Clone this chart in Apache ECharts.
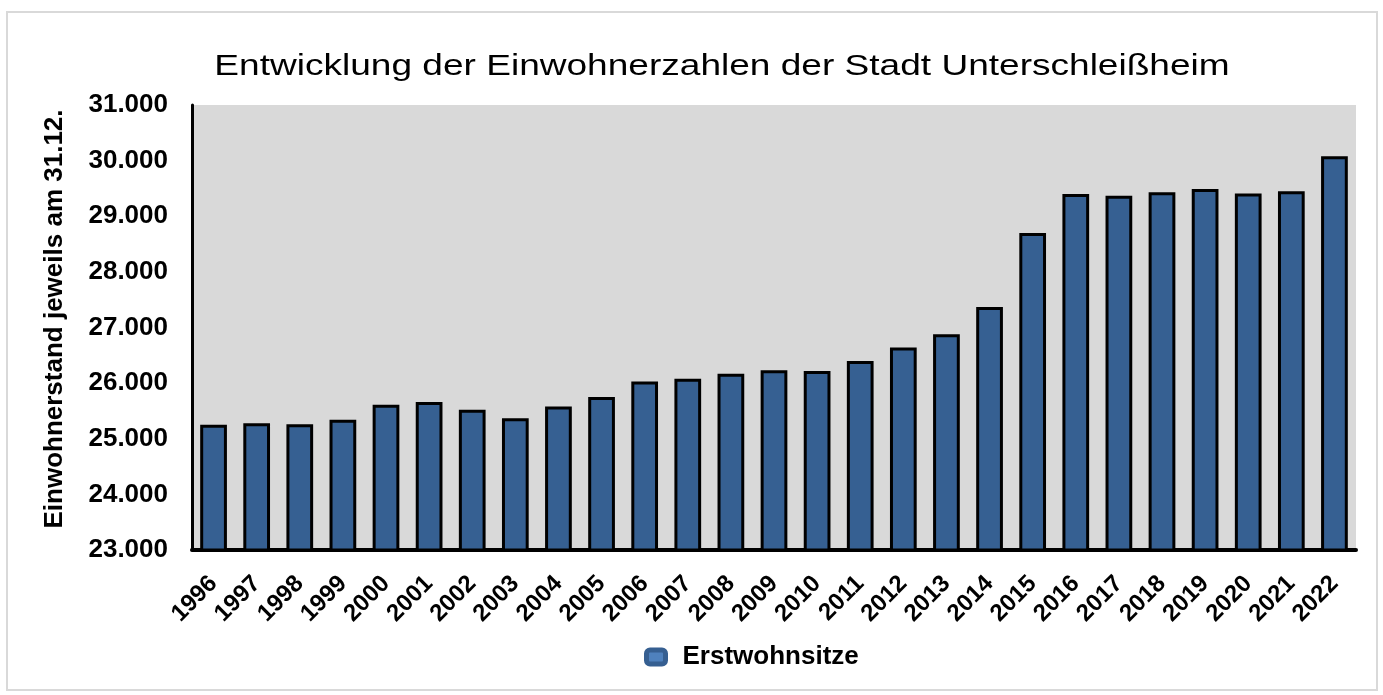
<!DOCTYPE html>
<html>
<head>
<meta charset="utf-8">
<title>Einwohnerzahlen Unterschleißheim</title>
<script src="https://cdn.jsdelivr.net/npm/echarts@6/dist/echarts.min.js"></script>
<style>
  html, body { margin: 0; padding: 0; background: #fff; }
  #chart { width: 1383px; height: 695px; }
</style>
</head>
<body>
<div id="chart"></div>
<script>
// Jahre (x-Achse)
const years = ['1996', '1997', '1998', '1999', '2000', '2001', '2002', '2003', '2004', '2005',
  '2006', '2007', '2008', '2009', '2010', '2011', '2012', '2013', '2014', '2015',
  '2016', '2017', '2018', '2019', '2020', '2021', '2022']
// Einwohner mit Erstwohnsitz, jeweils am 31.12.
const erstwohnsitze = [25250, 25280, 25260, 25340, 25610, 25660, 25520, 25370, 25580, 25750,
  26030, 26080, 26170, 26230, 26220, 26400, 26640, 26880, 27370, 28700,
  29400, 29370, 29430, 29490, 29410, 29450, 30080]
// y-Achse
const yMin = 23000
const yMax = 31000
const yStep = 1000

const font = '"Liberation Sans", Arial, sans-serif'

// Tausenderpunkt wie im Original: 31.000
function deNumber(v) {
  return String(v).replace(/\B(?=(\d{3})+(?!\d))/g, '.')
}

const chart = echarts.init(document.getElementById('chart'))
chart.setOption({
  animation: false,
  backgroundColor: '#fff',
  textStyle: { fontFamily: font },
  graphic: [
    // Rahmen um das ganze Diagramm
    {
      type: 'rect',
      silent: true,
      shape: { x: 7, y: 12, width: 1370, height: 678 },
      style: { fill: 'none', stroke: '#d9d9d9', lineWidth: 2 }
    },
    // Titel, im Original etwas breit gezogen
    {
      type: 'text',
      silent: true,
      x: 722,
      y: 67,
      scaleX: 1.235,
      style: {
        text: 'Entwicklung der Einwohnerzahlen der Stadt Unterschleißheim',
        fill: '#000',
        font: '30px "Liberation Sans", Arial, sans-serif',
        align: 'center',
        verticalAlign: 'middle'
      }
    }
  ],
  grid: {
    left: 192,
    right: 27,
    top: 105,
    bottom: 145,
    show: true,
    backgroundColor: '#d9d9d9',
    borderWidth: 0
  },
  legend: {
    left: 644,
    top: 644,
    padding: 0,
    itemWidth: 19,
    itemHeight: 14,
    textStyle: {
      color: '#000',
      fontWeight: 'bold',
      fontSize: 26,
      fontFamily: font,
      padding: [0, 0, 0, 12]
    },
    data: [{
      name: 'Erstwohnsitze',
      icon: 'roundRect',
      itemStyle: { color: '#4f81bd', borderColor: '#365f91', borderWidth: 5 }
    }]
  },
  xAxis: {
    type: 'category',
    data: years,
    axisLine: { lineStyle: { color: '#000', width: 4 } },
    axisTick: { show: false },
    axisLabel: {
      rotate: 45,
      interval: 0,
      margin: 30,
      color: '#000',
      fontWeight: 'bold',
      fontSize: 24,
      fontFamily: font
    }
  },
  yAxis: {
    type: 'value',
    min: yMin,
    max: yMax,
    interval: yStep,
    name: 'Einwohnerstand jeweils am 31.12.',
    nameLocation: 'middle',
    nameRotate: 90,
    nameGap: 124,
    nameTextStyle: {
      color: '#000',
      fontWeight: 'bold',
      fontSize: 26,
      fontFamily: font,
      padding: [0, 0, 0, 17]
    },
    axisLine: { show: true, lineStyle: { color: '#000', width: 3 } },
    axisTick: { show: false },
    splitLine: { show: false },
    axisLabel: {
      margin: 24,
      color: '#000',
      fontWeight: 'bold',
      fontSize: 26,
      fontFamily: font,
      formatter: deNumber
    }
  },
  series: [{
    name: 'Erstwohnsitze',
    type: 'bar',
    data: erstwohnsitze,
    barWidth: '62%',
    itemStyle: {
      color: '#366092',
      borderColor: '#000',
      borderWidth: 3
    }
  }]
})
</script>
</body>
</html>
